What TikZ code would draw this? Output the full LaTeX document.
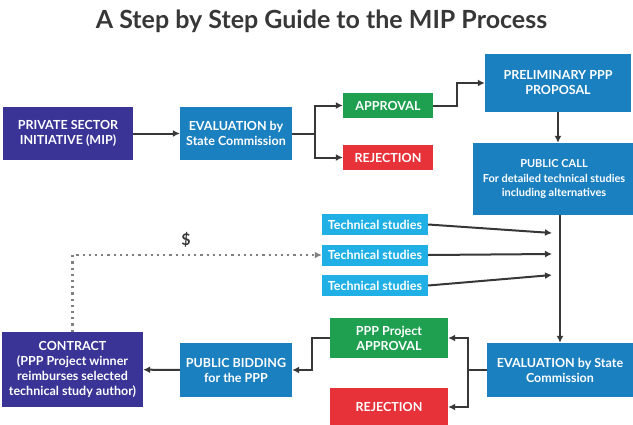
\documentclass[tikz,border=0pt]{standalone}
\usepackage{fontspec}
\setmainfont{Lato}
\usetikzlibrary{arrows.meta}

\definecolor{mipindigo}{RGB}{58,52,150}
\definecolor{mipblue}{RGB}{27,128,192}
\definecolor{miplight}{RGB}{32,176,230}
\definecolor{mipgreen}{RGB}{30,160,80}
\definecolor{mipred}{RGB}{230,50,56}
\definecolor{mipgray}{RGB}{55,55,55}

\begin{document}
\begin{tikzpicture}[x=1pt,y=-1pt,>={Latex[length=7pt,width=7pt]}]

      \useasboundingbox (0,0) rectangle (633,424);

      \node[font=\fontsize{25}{28}\selectfont\bfseries,text=mipgray] (title) at (321.5,21) {A Step by Step Guide to the MIP Process};

      \begin{scope}[every node/.style={text=white,align=center,inner sep=0pt,
          font=\fontsize{12.5}{15}\selectfont\bfseries}]
        \node[fill=mipindigo,minimum width=130,minimum height=53] (psi)   at (68,133.5)  {PRIVATE SECTOR\\INITIATIVE (MIP)};
        \node[fill=mipblue,minimum width=112,minimum height=53]   (eval1) at (236,133.5) {EVALUATION by\\State Commission};
        \node[fill=mipgreen,minimum width=90,minimum height=25]   (appr1) at (388,105.5) {APPROVAL};
        \node[fill=mipred,minimum width=90,minimum height=25]     (rej1)  at (388,157.5) {REJECTION};
        \node[fill=mipblue,minimum width=146,minimum height=58]   (prelim) at (558,83)   {PRELIMINARY PPP\\PROPOSAL};
        \node[fill=mipblue,minimum width=162,minimum height=72,
          font=\fontsize{11}{14.5}\selectfont\bfseries]           (pcall) at (554,179)   {PUBLIC CALL\\For detailed technical studies\\including alternatives};
        \node[fill=miplight,minimum width=106,minimum height=21]  (tech1) at (375,224.5) {Technical studies};
        \node[fill=miplight,minimum width=106,minimum height=21]  (tech2) at (375,255)   {Technical studies};
        \node[fill=miplight,minimum width=106,minimum height=21]  (tech3) at (375,285.5) {Technical studies};
        \node[fill=mipblue,minimum width=146,minimum height=54]   (eval2) at (560,370)   {EVALUATION by State\\Commission};
        \node[fill=mipgreen,minimum width=118,minimum height=40]  (appr2) at (389,338)   {PPP Project\\APPROVAL};
        \node[fill=mipred,minimum width=118,minimum height=38]    (rej2)  at (389,407)   {REJECTION};
        \node[fill=mipblue,minimum width=112,minimum height=54]   (bid)   at (236,370)   {PUBLIC BIDDING\\for the PPP};
        \node[fill=mipindigo,minimum width=141,minimum height=75] (contract) at (72.5,369.5) {CONTRACT\\(PPP Project winner\\reimburses selected\\technical study author)};
      \end{scope}

      \node[font=\fontsize{16}{18}\selectfont\bfseries,text=mipgray] (dollar) at (186,240) {\$};

      \coordinate (in1) at (552,233);
      \coordinate (in2) at (552,254);
      \coordinate (in3) at (552,275);

      \begin{scope}[draw=mipgray,line width=2pt]

        \begin{scope}[every edge/.style={draw,->}]
          \path (psi)  edge (eval1);
          \path (bid)  edge (contract);
          \path (tech1.east) edge (in1);
          \path (tech2.east) edge (in2);
          \path (tech3.east) edge (in3);
        \end{scope}

        \draw[->] (eval1.east) -- ++(23,0) |- (appr1.west);
        \draw[->] (eval1.east) -- ++(23,0) |- (rej1.west);
        \draw[->] (appr1.east) -- ++(24,0) |- (prelim.west);
        \draw[->] (prelim.south) -- (prelim.south |- pcall.north);
        \draw[->] (eval2.north |- pcall.south) -- (eval2.north);
        \draw[->] (eval2.west) -- ++(-19,0) |- (appr2.east);
        \draw[->] (eval2.west) -- ++(-19,0) |- (rej2.east);
        \draw[->] (appr2.west) -- ++(-18,0) |- (bid.east);

        \draw[->,draw=gray,line width=2.2pt,dash pattern=on 2.2pt off 4pt] (contract.north) |- (tech2.west);

      \end{scope}

    \end{tikzpicture}
\end{document}
